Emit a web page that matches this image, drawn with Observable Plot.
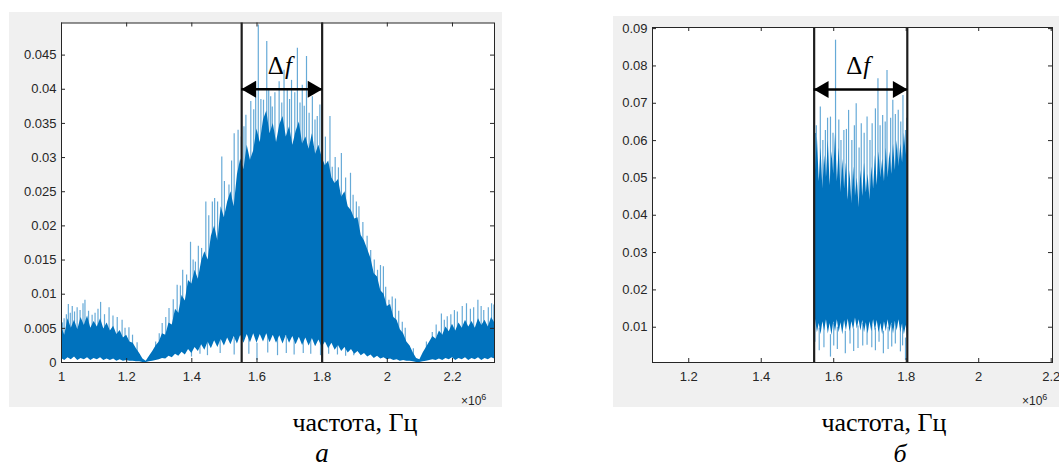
<!DOCTYPE html>
<html><head><meta charset="utf-8">
<script src="https://cdn.jsdelivr.net/npm/d3@7"></script>
<script src="https://cdn.jsdelivr.net/npm/@observablehq/plot@0.6"></script>
<style>
html,body{margin:0;padding:0;background:#fff;}
body{width:1059px;height:468px;position:relative;overflow:hidden;font-family:"Liberation Sans",Arial,sans-serif;}
.panel{position:absolute;}
#overlay{position:absolute;left:0;top:0;pointer-events:none;}
</style></head><body>
<div id="pa" class="panel" style="left:9px;top:12px"></div>
<div id="pb" class="panel" style="left:613px;top:16px"></div>
<svg id="overlay" width="1059" height="468"></svg>
<script>
// ---------- DATA (frequency in units of 10^6 Hz, amplitude) ----------
// panel a: dense part of the spectrum, upper and lower edge
const aFreq = [1.00,1.01,1.02,1.03,1.04,1.05,1.06,1.07,1.08,1.09,1.10,1.11,1.12,1.13,1.14,1.15,1.16,1.17,1.18,1.19,
  1.20,1.21,1.22,1.23,1.24,1.25,1.26,1.27,1.28,1.29,1.30,1.31,1.32,1.33,1.34,1.35,1.36,1.37,1.38,1.39,
  1.40,1.41,1.42,1.43,1.44,1.45,1.46,1.47,1.48,1.49,1.50,1.51,1.52,1.53,1.54,1.55,1.56,1.57,1.58,1.59,
  1.60,1.61,1.62,1.63,1.64,1.65,1.66,1.67,1.68,1.69,1.70,1.71,1.72,1.73,1.74,1.75,1.76,1.77,1.78,1.79,
  1.80,1.81,1.82,1.83,1.84,1.85,1.86,1.87,1.88,1.89,1.90,1.91,1.92,1.93,1.94,1.95,1.96,1.97,1.98,1.99,
  2.00,2.01,2.02,2.03,2.04,2.05,2.06,2.07,2.08,2.09,2.10,2.11,2.12,2.13,2.14,2.15,2.16,2.17,2.18,2.19,
  2.20,2.21,2.22,2.23,2.24,2.25,2.26,2.27,2.28,2.29,2.30,2.31,2.32,2.33];
const aHi = [0.0052,0.0040,0.0064,0.0050,0.0062,0.0048,0.0066,0.0054,0.0068,0.0050,0.0060,0.0052,0.0064,0.0049,0.0058,0.0046,0.0053,0.0041,0.0047,0.0036,
  0.0040,0.0030,0.0028,0.0020,0.0013,0.0005,0.0002,0.0009,0.0016,0.0024,0.0030,0.0042,0.0040,0.0058,0.0055,0.0078,0.0072,0.0098,0.0090,0.0120,
  0.0115,0.0135,0.0122,0.0148,0.0162,0.0150,0.0185,0.0200,0.0178,0.0228,0.0212,0.0235,0.0250,0.0228,0.0275,0.0298,0.0282,0.0318,0.0296,0.0310,
  0.0342,0.0322,0.0355,0.0368,0.0335,0.0350,0.0322,0.0348,0.0360,0.0330,0.0345,0.0318,0.0338,0.0352,0.0320,0.0330,0.0312,0.0335,0.0305,0.0318,
  0.0300,0.0288,0.0295,0.0270,0.0262,0.0268,0.0242,0.0250,0.0228,0.0222,0.0210,0.0212,0.0186,0.0178,0.0165,0.0152,0.0130,0.0125,0.0105,0.0100,
  0.0082,0.0085,0.0066,0.0062,0.0048,0.0042,0.0030,0.0024,0.0014,0.0006,0.0004,0.0014,0.0022,0.0030,0.0038,0.0034,0.0046,0.0040,0.0052,0.0045,
  0.0056,0.0046,0.0058,0.0050,0.0062,0.0052,0.0060,0.0050,0.0064,0.0054,0.0062,0.0052,0.0066,0.0058];
const aLo = [0.0006,0.0003,0.0007,0.0004,0.0008,0.0003,0.0006,0.0004,0.0007,0.0003,0.0006,0.0004,0.0007,0.0003,0.0005,0.0003,0.0005,0.0002,0.0004,0.0002,
  0.0003,0.0002,0.0002,0.0001,0.0001,0.0000,0.0000,0.0001,0.0002,0.0003,0.0004,0.0006,0.0005,0.0009,0.0007,0.0012,0.0009,0.0015,0.0011,0.0019,
  0.0013,0.0022,0.0016,0.0026,0.0018,0.0030,0.0020,0.0032,0.0022,0.0034,0.0024,0.0036,0.0026,0.0038,0.0027,0.0040,0.0028,0.0041,0.0029,0.0042,
  0.0028,0.0041,0.0030,0.0042,0.0029,0.0040,0.0028,0.0039,0.0027,0.0040,0.0028,0.0038,0.0026,0.0037,0.0025,0.0036,0.0024,0.0035,0.0023,0.0033,
  0.0022,0.0030,0.0020,0.0028,0.0018,0.0025,0.0016,0.0022,0.0014,0.0019,0.0012,0.0016,0.0010,0.0013,0.0008,0.0011,0.0006,0.0009,0.0005,0.0007,
  0.0004,0.0005,0.0003,0.0004,0.0002,0.0003,0.0002,0.0002,0.0001,0.0000,0.0000,0.0001,0.0002,0.0003,0.0004,0.0003,0.0005,0.0003,0.0006,0.0004,
  0.0007,0.0003,0.0006,0.0004,0.0007,0.0003,0.0006,0.0004,0.0007,0.0003,0.0006,0.0004,0.0007,0.0005];
// panel a: individual peaks above the dense part (frequency, amplitude)
const aPeakFreq = [1.003,1.008,1.015,1.021,1.027,1.033,1.040,1.048,1.057,1.066,1.072,1.083,1.094,1.103,1.112,1.120,1.132,1.146,1.158,1.171,
  1.186,1.195,1.207,1.218,1.232,1.289,1.300,1.309,1.320,1.330,1.343,1.355,1.365,1.372,1.384,1.396,1.404,1.411,1.420,1.430,
  1.443,1.452,1.463,1.470,1.479,1.492,1.500,1.514,1.522,1.530,1.542,1.552,1.560,1.566,1.581,1.590,1.596,1.604,1.612,1.620,
  1.630,1.636,1.642,1.647,1.655,1.668,1.676,1.683,1.693,1.700,1.706,1.716,1.724,1.732,1.739,1.745,1.752,1.760,1.770,1.778,
  1.785,1.793,1.810,1.824,1.831,1.840,1.850,1.859,1.872,1.887,1.895,1.905,1.913,1.925,1.938,1.949,1.960,1.970,1.979,1.988,
  1.995,2.005,2.015,2.025,2.035,2.046,2.055,2.065,2.080,2.120,2.138,2.150,2.166,2.175,2.184,2.195,2.206,2.215,2.230,2.243,
  2.255,2.265,2.278,2.288,2.296,2.310,2.320,2.327];
const aPeakVal = [0.0058,0.0064,0.0070,0.0085,0.0072,0.0082,0.0074,0.0080,0.0076,0.0086,0.0091,0.0075,0.0069,0.0072,0.0078,0.0088,0.0070,0.0080,0.0068,0.0066,
  0.0062,0.0050,0.0051,0.0040,0.0029,0.0030,0.0042,0.0057,0.0066,0.0079,0.0092,0.0113,0.0112,0.0135,0.0128,0.0176,0.0150,0.0147,0.0170,0.0167,
  0.0235,0.0215,0.0235,0.0240,0.0235,0.0301,0.0265,0.0260,0.0295,0.0335,0.0340,0.0330,0.0345,0.0362,0.0382,0.0370,0.0411,0.0494,0.0385,0.0384,
  0.0470,0.0400,0.0389,0.0374,0.0395,0.0411,0.0380,0.0428,0.0399,0.0385,0.0413,0.0395,0.0460,0.0380,0.0406,0.0375,0.0448,0.0365,0.0389,0.0355,
  0.0360,0.0377,0.0330,0.0360,0.0286,0.0300,0.0285,0.0306,0.0270,0.0277,0.0245,0.0235,0.0228,0.0205,0.0185,0.0164,0.0150,0.0135,0.0142,0.0140,
  0.0110,0.0091,0.0096,0.0093,0.0075,0.0059,0.0050,0.0025,0.0020,0.0030,0.0044,0.0055,0.0071,0.0062,0.0067,0.0070,0.0076,0.0074,0.0082,0.0086,
  0.0078,0.0080,0.0091,0.0082,0.0076,0.0080,0.0086,0.0084];
// panel a: downward dips below the dense part
const aDipFreq = [1.399,1.425,1.448,1.487,1.530,1.575,1.600,1.633,1.663,1.690,1.714,1.742,1.765,1.795,1.820,1.847,1.872,1.897];
const aDipVal  = [0.0008,0.0012,0.0010,0.0013,0.0011,0.0012,0.0003,0.0014,0.0010,0.0013,0.0011,0.0013,0.0012,0.0010,0.0012,0.0011,0.0009,0.0010];
// panel a: band edges and arrow level
const aBand = [1.553, 1.800];
const aArrowLevel = 0.040;

// panel b: filtered spectrum
const bFreq = [1.546,1.550,1.555,1.560,1.565,1.570,1.575,1.580,1.585,1.590,1.595,1.600,1.605,1.610,1.615,1.620,1.625,1.630,1.635,1.640,
  1.645,1.650,1.655,1.660,1.665,1.670,1.675,1.680,1.685,1.690,1.695,1.700,1.705,1.710,1.715,1.720,1.725,1.730,1.735,1.740,
  1.745,1.750,1.755,1.760,1.765,1.770,1.775,1.780,1.785,1.790,1.795,1.800,1.803];
const bHi = [0.060,0.052,0.061,0.049,0.058,0.047,0.056,0.050,0.060,0.048,0.057,0.051,0.062,0.049,0.058,0.046,0.055,0.047,0.054,0.044,
  0.052,0.043,0.053,0.045,0.050,0.042,0.052,0.045,0.054,0.046,0.051,0.044,0.053,0.047,0.056,0.048,0.057,0.050,0.055,0.049,
  0.058,0.050,0.057,0.051,0.059,0.052,0.060,0.053,0.059,0.054,0.062,0.056,0.063];
const bLo = [0.0090,0.0120,0.0085,0.0110,0.0080,0.0115,0.0090,0.0120,0.0082,0.0110,0.0078,0.0115,0.0088,0.0120,0.0085,0.0112,0.0080,0.0118,0.0090,0.0122,
  0.0088,0.0115,0.0092,0.0125,0.0095,0.0120,0.0090,0.0118,0.0085,0.0112,0.0082,0.0115,0.0088,0.0120,0.0090,0.0118,0.0085,0.0110,0.0080,0.0115,
  0.0088,0.0120,0.0086,0.0112,0.0082,0.0116,0.0090,0.0120,0.0085,0.0110,0.0080,0.0105,0.0075];
const bPeakFreq = [1.5495,1.552,1.563,1.570,1.577,1.583,1.591,1.598,1.605,1.614,1.620,1.628,1.635,1.641,1.650,1.657,1.662,1.670,1.676,1.684,
  1.692,1.700,1.706,1.715,1.722,1.728,1.735,1.742,1.747,1.757,1.763,1.770,1.778,1.785,1.791,1.798,1.801];
const bPeakVal  = [0.0619,0.0640,0.0690,0.0600,0.0627,0.0660,0.0663,0.0620,0.0869,0.0655,0.0600,0.0627,0.0630,0.0681,0.0600,0.0640,0.0699,0.0580,0.0645,0.0620,
  0.0663,0.0600,0.0645,0.0685,0.0766,0.0640,0.0667,0.0650,0.0788,0.0660,0.0708,0.0670,0.0681,0.0650,0.0721,0.0627,0.0660];
const bDipFreq = [1.548,1.560,1.573,1.591,1.600,1.610,1.632,1.645,1.655,1.667,1.680,1.692,1.705,1.715,1.725,1.737,1.750,1.760,1.770,1.784,1.790,1.798];
const bDipVal  = [0.0060,0.0037,0.0045,0.0020,0.0050,0.0040,0.0029,0.0055,0.0035,0.0043,0.0050,0.0052,0.0045,0.0037,0.0060,0.0029,0.0040,0.0047,0.0055,0.0034,0.0050,0.0011];
const bBand = [1.546, 1.803];
const bArrowLevel = 0.0737;

// axes
const aTicksX = [1,1.2,1.4,1.6,1.8,2,2.2];
const aTicksY = [0,0.005,0.01,0.015,0.02,0.025,0.03,0.035,0.04,0.045];
const aDomainX = [1.0, 2.329];
const aDomainY = [0, 0.0497];
const bTicksX = [1.2,1.4,1.6,1.8,2,2.2];
const bTicksY = [0.01,0.02,0.03,0.04,0.05,0.06,0.07,0.08,0.09];
const bDomainX = [1.1, 2.2036];
const bDomainY = [0.00055, 0.0903];

// ---------- DRAWING ----------
const BLUE = "#0072BD";
const AX = "#262626";
const SANS = "'Liberation Sans', Arial, Helvetica, sans-serif";
const SERIF = "'Liberation Serif', 'Times New Roman', serif";
const zip2 = (f, v) => f.map((x, i) => ({f: x, v: v[i]}));

function panel(o) {
  const ph = o.height - o.mt - o.mb, pw = o.width - o.ml - o.mr;
  const dense = o.freq.map((f, i) => ({f, lo: o.lo[i], hi: o.hi[i]}));
  const peaks = zip2(o.peakF, o.peakV);
  const dips = zip2(o.dipF, o.dipV);
  const mid = (o.band[0] + o.band[1]) / 2;
  const fmtX = d => String(+d.toFixed(2));
  const fmtY = d => String(+d.toFixed(3));
  return Plot.plot({
    width: o.width, height: o.height,
    marginLeft: o.ml, marginRight: o.mr, marginTop: o.mt, marginBottom: o.mb,
    style: {background: "#f0f0f0", color: AX, fontFamily: SANS, fontSize: "13px", overflow: "visible"},
    x: {domain: o.domX}, y: {domain: o.domY},
    marks: [
      Plot.frame({fill: "white", stroke: null}),
      Plot.ruleX(peaks, {x: "f", y1: d => d.v * 0.5, y2: "v", stroke: BLUE, strokeOpacity: 0.6, strokeWidth: 1.2}),
      Plot.ruleX(dips, {x: "f", y1: "v", y2: d => d.v + o.dipLen, stroke: BLUE, strokeOpacity: 0.6, strokeWidth: 1.2}),
      Plot.areaY(dense, {x: "f", y1: "lo", y2: "hi", fill: BLUE, curve: "linear"}),
      Plot.ruleX(o.band, {x: d => d, stroke: "#1e1e1e", strokeWidth: 2.2}),
      Plot.ruleY([o.arrowY], {y: d => d, x1: o.band[0], x2: o.band[1], stroke: "black", strokeWidth: 2.6}),
      Plot.dot([o.band[0]], {x: d => d, y: () => o.arrowY, symbol: "triangle", r: 6.3, rotate: -90, fill: "black", stroke: null, dx: 9.5}),
      Plot.dot([o.band[1]], {x: d => d, y: () => o.arrowY, symbol: "triangle", r: 6.3, rotate: 90, fill: "black", stroke: null, dx: -9.5}),
      Plot.text(["Δ"], {x: () => mid, y: () => o.arrowY, text: d => d, textAnchor: "end", lineAnchor: "bottom", dx: o.tdx, dy: -15, fontFamily: SERIF, fontSize: 25, fill: "black"}),
      Plot.text(["f"], {x: () => mid, y: () => o.arrowY, text: d => d, textAnchor: "start", lineAnchor: "bottom", dx: o.tdx + 1, dy: -15, fontFamily: SERIF, fontStyle: "italic", fontSize: 25, fill: "black"}),
      Plot.frame({stroke: AX, strokeWidth: 1}),
      Plot.tickX(o.ticksX, {x: d => d, insetTop: ph - 4, stroke: AX}),
      Plot.tickX(o.ticksX, {x: d => d, insetBottom: ph - 4, stroke: AX}),
      Plot.tickY(o.ticksY, {y: d => d, insetRight: pw - 4, stroke: AX}),
      Plot.tickY(o.ticksY, {y: d => d, insetLeft: pw - 4, stroke: AX}),
      Plot.axisX(o.ticksX, {tickSize: 0, tickPadding: 9, tickFormat: fmtX, label: null, fill: AX, fontSize: 13}),
      Plot.axisY(o.ticksY, {tickSize: 0, tickPadding: 5, tickFormat: fmtY, label: null, fill: AX, fontSize: 13})
    ]
  });
}

document.getElementById("pa").append(panel({
  width: 493, height: 395, ml: 52, mr: 8, mt: 10.5, mb: 45,
  freq: aFreq, hi: aHi, lo: aLo,
  peakF: aPeakFreq, peakV: aPeakVal, dipF: aDipFreq, dipV: aDipVal, dipLen: 0.0025,
  band: aBand, arrowY: aArrowLevel, tdx: 2,
  ticksX: aTicksX, ticksY: aTicksY, domX: aDomainX, domY: aDomainY
}));
document.getElementById("pb").append(panel({
  width: 446, height: 391, ml: 39, mr: 7, mt: 11, mb: 45,
  freq: bFreq, hi: bHi, lo: bLo,
  peakF: bPeakFreq, peakV: bPeakVal, dipF: bDipFreq, dipV: bDipVal, dipLen: 0.006,
  band: bBand, arrowY: bArrowLevel, tdx: 1.5,
  ticksX: bTicksX, ticksY: bTicksY, domX: bDomainX, domY: bDomainY
}));

// ---------- captions ----------
const ov = d3.select("#overlay");
function mult(x, y) {
  const t = ov.append("text").attr("x", x).attr("y", y).attr("fill", AX)
    .attr("font-family", SANS).attr("font-size", 12);
  t.append("tspan").text("×10");
  t.append("tspan").attr("dy", -5).attr("font-size", 9).text("6");
}
mult(461, 405);
mult(1022, 405);
function cap(x, y, s, size, italic) {
  ov.append("text").attr("x", x).attr("y", y).attr("text-anchor", "middle")
    .attr("font-family", SERIF)
    .attr("font-size", size).attr("font-style", italic ? "italic" : "normal")
    .attr("fill", "black").text(s);
}
cap(355, 431, "частота, Гц", 26, false);
cap(884, 431, "частота, Гц", 26, false);
cap(322, 462, "а", 27, true);
cap(900, 462, "б", 26, true);
</script>
</body></html>
